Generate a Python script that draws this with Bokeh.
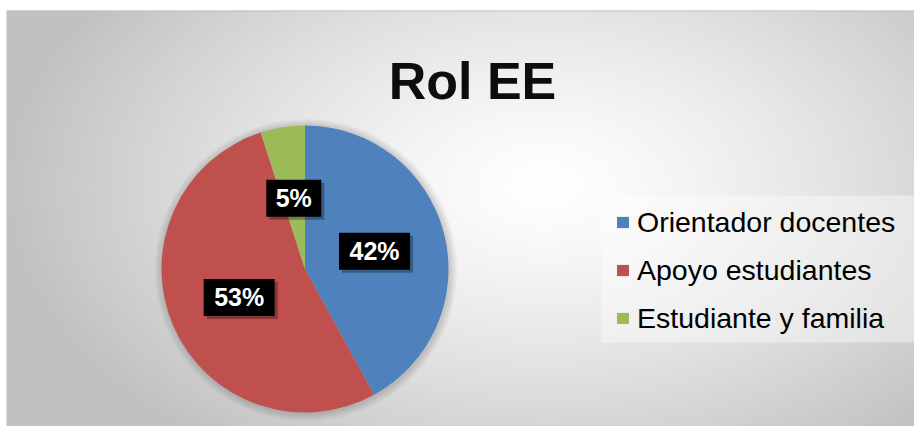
import numpy as np
from bokeh.plotting import figure
from bokeh.models import (ColumnDataSource, Range1d, Legend, LegendItem, Label,
                          BoxAnnotation)
from bokeh.embed import file_html
from bokeh.resources import INLINE
from bokeh.core.properties import value

# ---- data ----
categories = ["Orientador docentes", "Apoyo estudiantes", "Estudiante y familia"]
values = [42, 53, 5]
labels = ["42%", "53%", "5%"]
colors = ["#4f81bd", "#c0504d", "#9bbb59"]
title_text = "Rol EE"

W, H = 914, 426
FONT = "Liberation Sans"

p = figure(width=W, height=H, output_backend="svg", toolbar_location=None,
           x_range=Range1d(0, W), y_range=Range1d(0, H),
           min_border=0, x_axis_location=None, y_axis_location=None)
p.grid.visible = False
p.outline_line_color = None
p.background_fill_color = "white"
p.border_fill_color = "white"

# ---- background radial gradient (chart area from x=6, y=10 down) ----
X0, TOP = 6, 10
BW, BH = W - X0, H - TOP
jj, ii = np.meshgrid(np.arange(BW), np.arange(BH))
px = X0 + jj + 0.5
py = H - (ii + 0.5)
cxg, cyg, rx, ry = 545.0, 185.0, 540.0, 330.0
t = np.sqrt(((px - cxg) / rx) ** 2 + ((py - cyg) / ry) ** 2)
t = np.clip(t, 0, 1)
lum = (255 - 62 * t ** 1.3).astype(np.uint8)
rgba = np.empty((BH, BW, 4), dtype=np.uint8)
rgba[..., 0] = lum
rgba[..., 1] = lum
rgba[..., 2] = lum
rgba[..., 3] = 255
img = rgba.view(dtype=np.uint32).reshape((BH, BW))
p.image_rgba(image=[img], x=X0, y=0, dw=BW, dh=BH)
p.line(x=[X0, W], y=[BH - 0.5, BH - 0.5], line_color="#c4c4c4", line_width=1)

# ---- pie ----
cx, cy, R = 304.5, 157.5, 143.5
total = float(sum(values))
cum = np.concatenate([[0.0], np.cumsum(values) / total * 2 * np.pi])
start = np.pi / 2 - cum[1:]
end = np.pi / 2 - cum[:-1]
mid = (cum[:-1] + cum[1:]) / 2

# soft shadow halo
for k in range(1, 9):
    p.circle(x=[cx + 1], y=[cy - 1], radius=R + k, fill_color="black",
             fill_alpha=0.018, line_color=None)

src = ColumnDataSource(dict(
    start=start, end=end, color=colors, cat=categories))
wr = p.wedge(x=cx, y=cy, radius=R, start_angle="start", end_angle="end",
             direction="anticlock", fill_color="color", line_color=None,
             source=src)

# ---- data labels ----
lx = cx + 0.5 * R * np.sin(mid)
ly = cy + 0.5 * R * np.cos(mid)
bw = [16 * len(s) + 23 for s in labels]
lsrc = ColumnDataSource(dict(x=lx, y=ly, sx=lx + 3, sy=ly - 3, w=bw, txt=labels))
p.rect(x="sx", y="sy", width="w", height=37, fill_color="black", fill_alpha=0.3,
       line_color=None, source=lsrc)
p.rect(x="x", y="y", width="w", height=37, fill_color="black",
       line_color=None, source=lsrc)
p.text(x="x", y="y", text="txt", source=lsrc, text_color="white",
       text_font=value(FONT), text_font_style="bold", text_font_size="25px",
       text_align="center", text_baseline="middle")

# ---- title ----
p.add_layout(Label(x=472, y=346, text=title_text, text_font=FONT,
                   text_font_style="bold", text_font_size="52px",
                   text_color="#0d0d0d", text_align="center",
                   text_baseline="alphabetic"))

# ---- legend ----
p.add_layout(BoxAnnotation(left=601, right=920, top=231, bottom=84,
                           fill_color="white", fill_alpha=0.4, line_color=None))
items = [LegendItem(label=c, renderers=[wr], index=i) for i, c in enumerate(categories)]
leg = Legend(items=items, location=(615, 90), padding=0, margin=0,
             spacing=12, label_height=36, glyph_height=14, glyph_width=15,
             label_standoff=7, label_text_font=FONT, label_text_font_size="28.5px",
             label_text_color="#000000", background_fill_alpha=0,
             border_line_color=None)
p.add_layout(leg)

open("out.html", "w").write(file_html(p, INLINE))
